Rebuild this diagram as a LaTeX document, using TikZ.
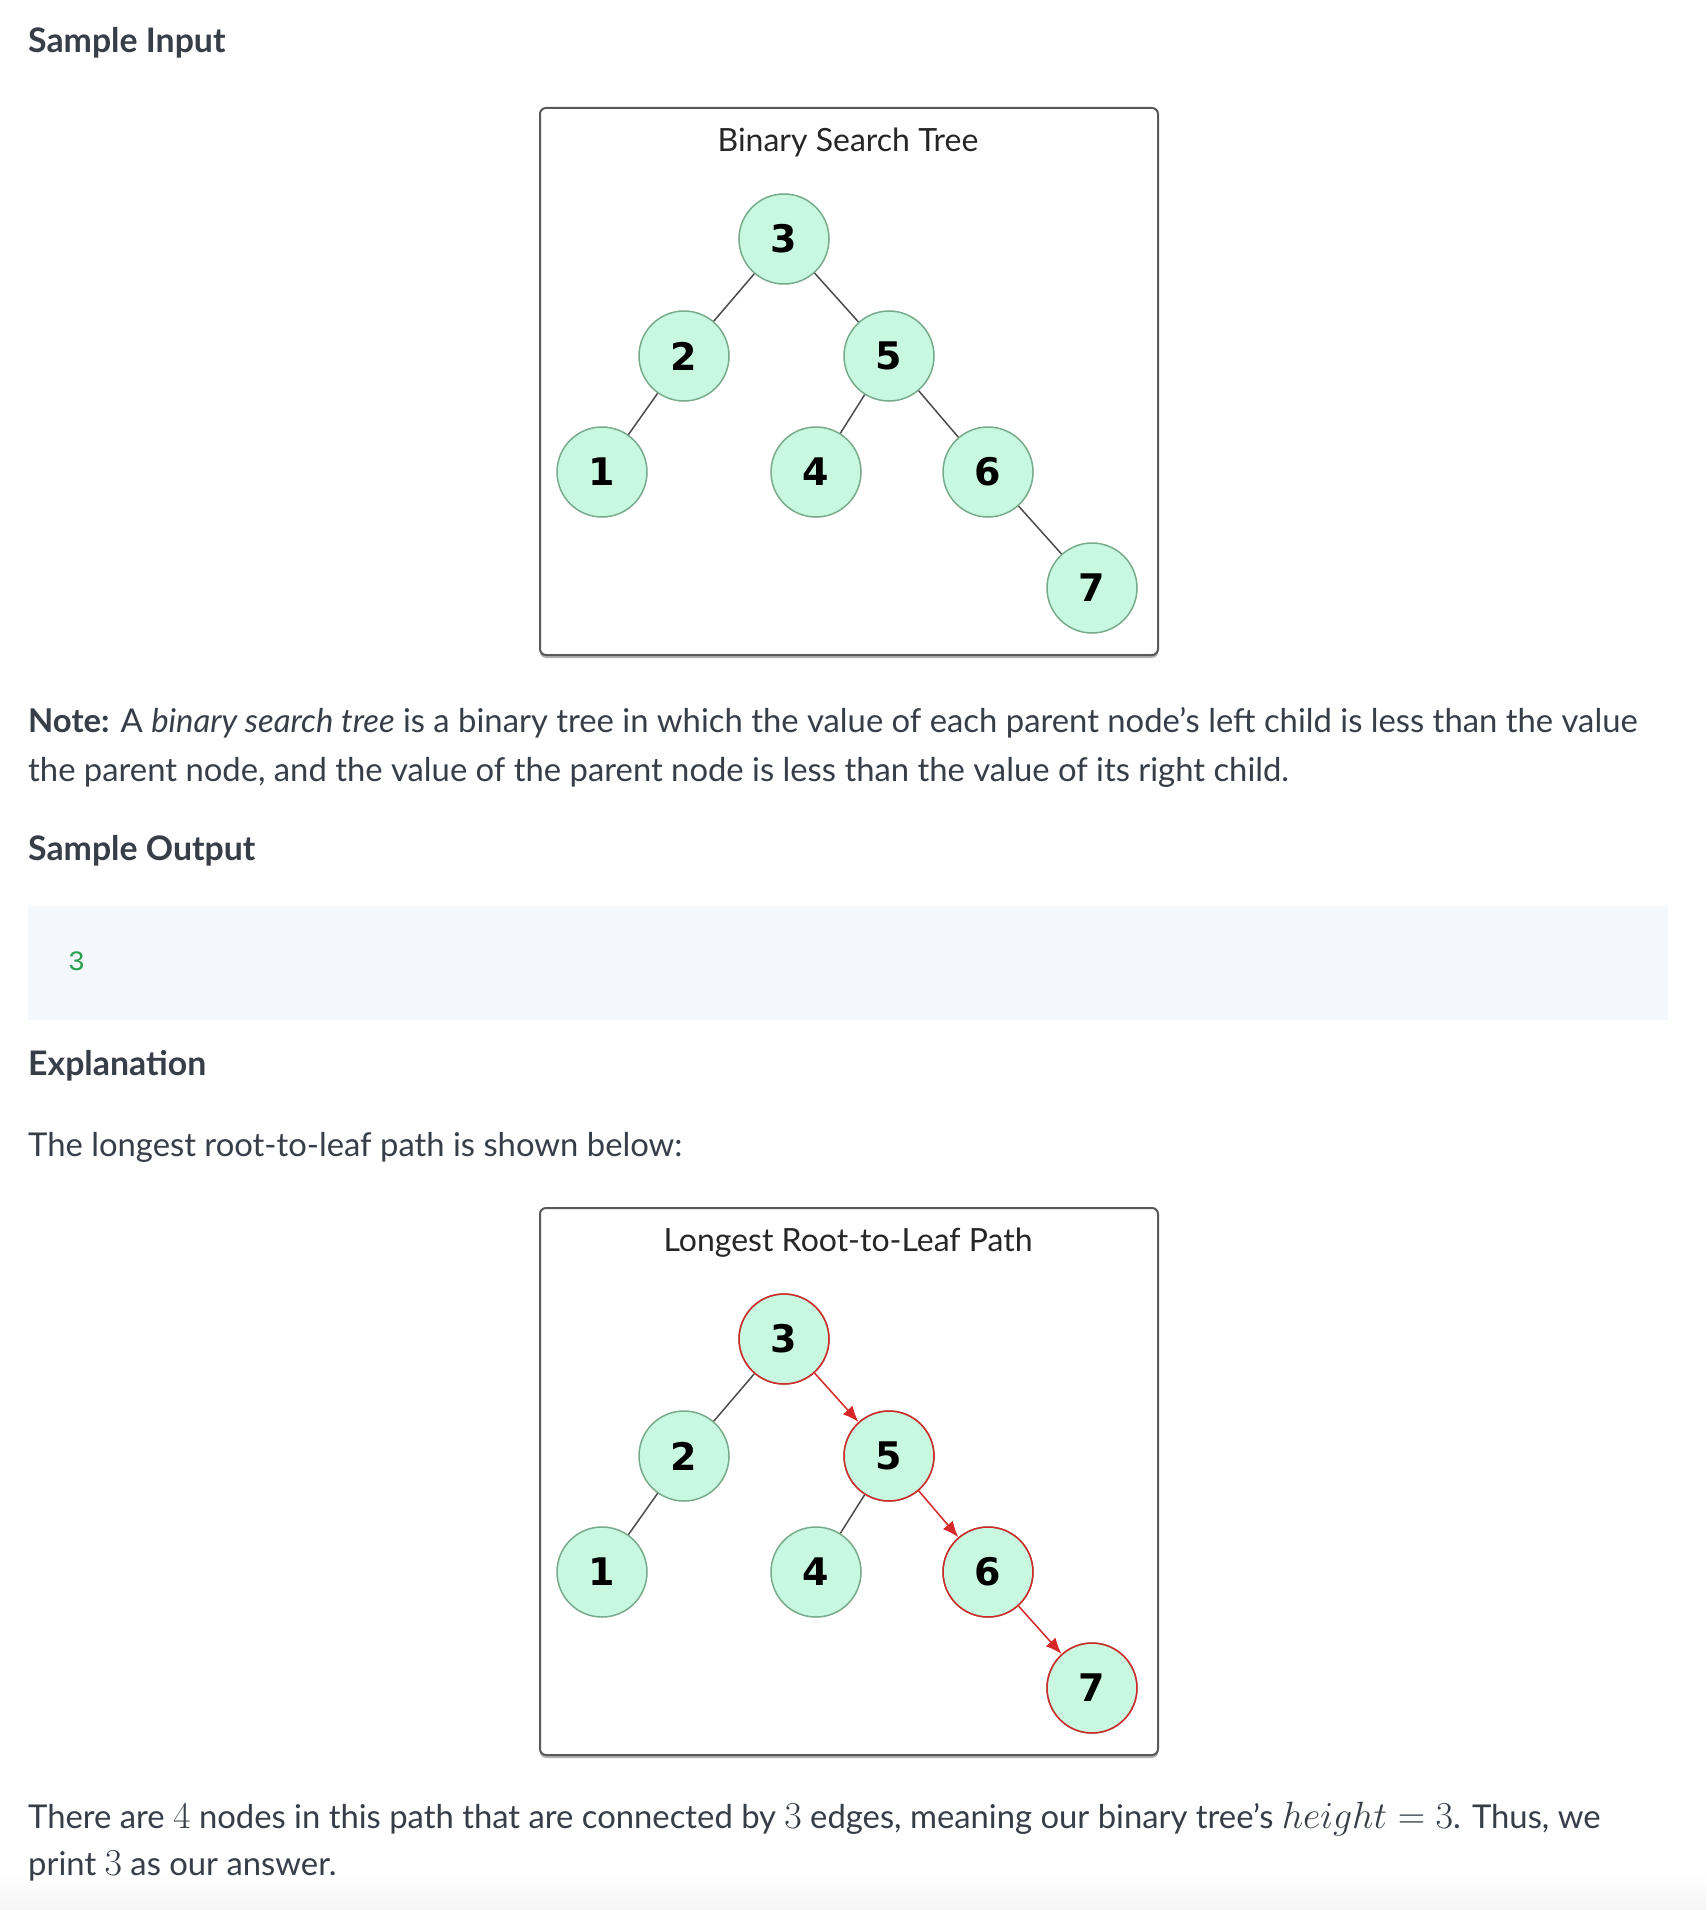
\RequirePackage{fix-cm}
\documentclass[tikz,border=0pt]{standalone}
\usepackage[no-math]{fontspec}
\setmainfont{Lato}
\setmonofont{Liberation Mono}
\newfontfamily\digitfont{DejaVu Sans}
\usetikzlibrary{positioning,shadows,arrows.meta}
\definecolor{inkgray}{RGB}{55,62,72}
\definecolor{mint}{RGB}{200,248,224}
\definecolor{mintedge}{RGB}{120,170,140}
\definecolor{pathred}{RGB}{214,40,40}
\definecolor{codebg}{RGB}{244,248,253}
\definecolor{codegreen}{RGB}{40,160,80}
\newcommand{\katexm}[1]{{\fontsize{38}{38}\selectfont$#1$}}
\tikzset{%
  bst/.style={circle,draw=mintedge,fill=mint,line width=1.5pt,minimum size=90pt,
    inner sep=0pt,font=\fontsize{38}{38}\selectfont\digitfont\bfseries},
  frame/.style={draw=black!65,line width=2pt,rounded corners=6pt,fill=white,
    minimum width=618pt,minimum height=547pt,anchor=north west,
    drop shadow={shadow xshift=0pt,shadow yshift=-3pt,opacity=.6}},
  frametitle/.style={anchor=mid,font=\fontsize{32}{32}\selectfont,text=black!85},
  head/.style={anchor=mid west,inner sep=0pt,font=\fontsize{33.8}{33.8}\selectfont\bfseries,text=inkgray},
  body/.style={anchor=mid west,inner sep=0pt,font=\fontsize{32.8}{32.8}\selectfont,text=inkgray},
  branch/.style={draw=black!70,line width=1.5pt},
  hop/.style={draw=pathred,line width=1.5pt,-{Latex[length=16pt,width=13pt]}}
}
\begin{document}
\begin{tikzpicture}[x=1pt,y=-1pt]
\useasboundingbox (0,0) rectangle (1706,1910);
\fill[white] (0,0) rectangle (1706,1910);
\shade[top color=white,bottom color=black!4] (0,1872) rectangle (1706,1910);

\node[head] (inhead) at (28,50) {Sample Input};

% input tree
\node[frame] (inbox) at (539,107) {};
\node[frametitle] (intitle) at (848,149) {Binary Search Tree};
\foreach \n/\x/\y in {3/784/239,2/684/356,5/889/356,1/602/472,4/816/472,6/988/472,7/1092/588}
  \node[bst] (a\n) at (\x,\y) {\n};
\foreach \p/\c in {3/2,3/5,2/1,5/4,5/6,6/7}
  \draw[branch] (a\p) -- (a\c);

\node[body] (note1) at (28,730) {\textbf{Note:} A \textit{binary search tree} is a binary tree in which the value of each parent node's left child is less than the value};
\node[body] (note2) at (28,779) {the parent node, and the value of the parent node is less than the value of its right child.};

\node[head] (outhead) at (28,858) {Sample Output};
\node[fill=codebg,minimum width=1640pt,minimum height=114pt,anchor=north west,inner sep=0pt] (codebox) at (28,906) {};
\node[anchor=mid west,inner sep=0pt,font=\fontsize{28}{28}\selectfont\ttfamily,text=codegreen] (answer) at (68,968) {3};

\node[head] (exphead) at (28,1073) {Explanation};
\node[body] (expline) at (28,1154) {The longest root-to-leaf path is shown below:};

% longest path tree
\node[frame] (pathbox) at (539,1207) {};
\node[frametitle] (pathtitle) at (848,1249) {Longest Root-to-Leaf Path};
\foreach \n/\x/\y in {3/784/1339,2/684/1456,5/889/1456,1/602/1572,4/816/1572,6/988/1572,7/1092/1688}
  \node[bst] (b\n) at (\x,\y) {\n};
\foreach \n in {3,5,6,7}
  \draw[pathred,line width=1.5pt] (b\n) circle (45pt);
\foreach \p/\c in {3/2,2/1,5/4}
  \draw[branch] (b\p) -- (b\c);
\foreach \p/\c in {3/5,5/6,6/7}
  \draw[hop] (b\p) -- (b\c);

\node[body] (concl1) at (28,1826) {There are \katexm{4} nodes in this path that are connected by \katexm{3} edges, meaning our binary tree's \katexm{height = 3}. Thus, we};
\node[body] (concl2) at (28,1873) {print \katexm{3} as our answer.};
\end{tikzpicture}
\end{document}
